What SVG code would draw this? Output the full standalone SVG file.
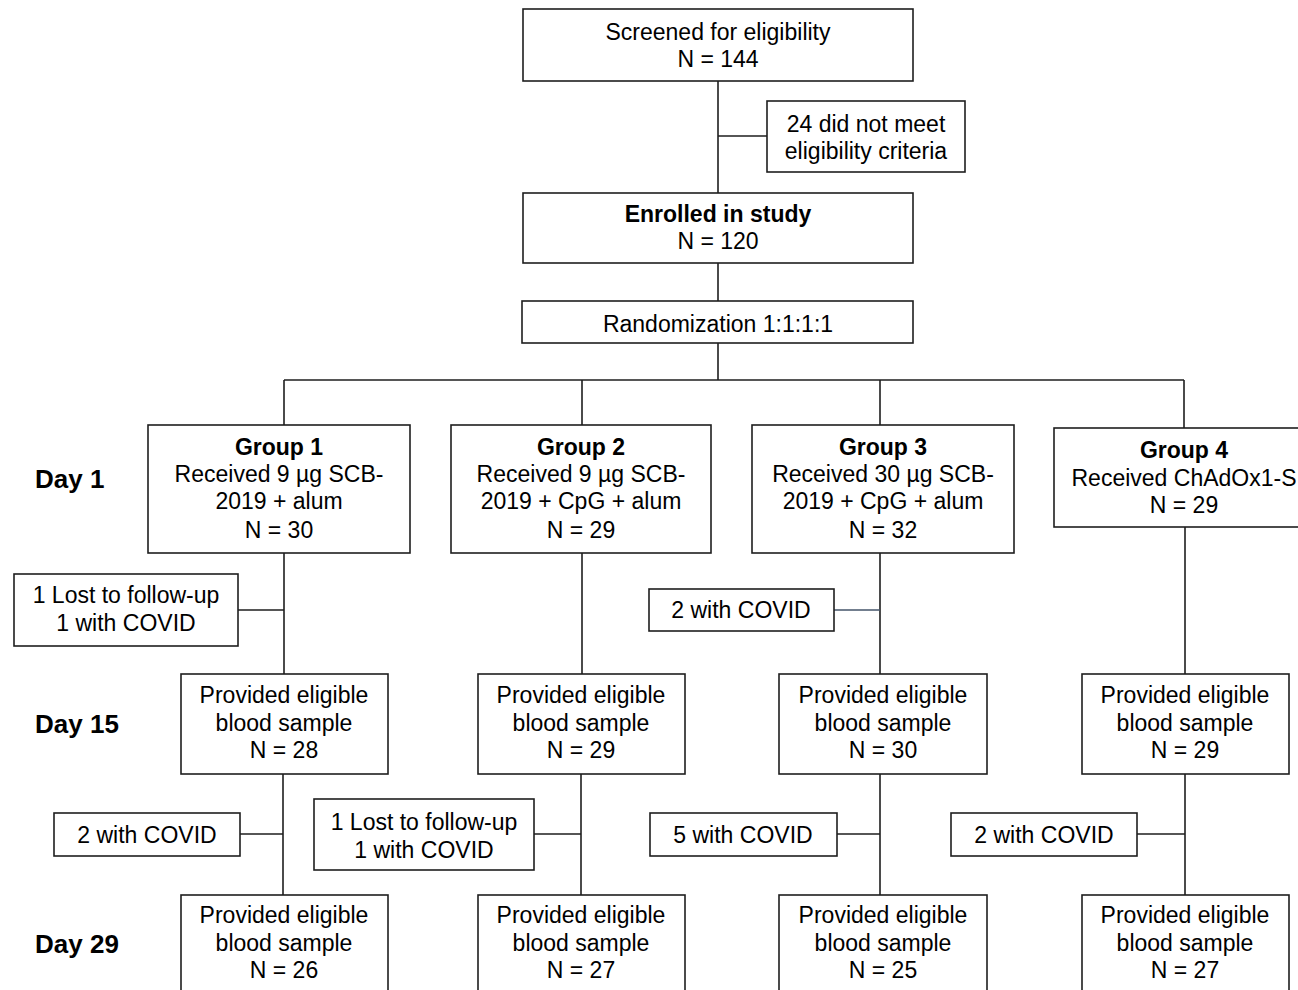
<svg xmlns="http://www.w3.org/2000/svg" width="1298" height="990" viewBox="0 0 1298 990">
<style>
.box{fill:#fff;stroke:#1e1e1e;stroke-width:1.6}
.ln{stroke:#1e1e1e;stroke-width:1.6;fill:none}
.ln2{stroke:#44546a;stroke-width:1.4;fill:none}
text{font-family:"Liberation Sans",Arial,sans-serif;font-size:23px;fill:#000;text-anchor:middle}
.b{font-weight:bold}
.day{font-weight:bold;font-size:26px;text-anchor:start}
</style>
<rect width="1298" height="990" fill="#fff"/>
<g id="connectors">
<line class="ln" x1="718" y1="81" x2="718" y2="193"/>
<line class="ln" x1="718" y1="136" x2="767" y2="136"/>
<line class="ln" x1="718" y1="263" x2="718" y2="301"/>
<line class="ln" x1="718" y1="343" x2="718" y2="380"/>
<line class="ln" x1="284" y1="380" x2="1184" y2="380"/>
<line class="ln" x1="284" y1="380" x2="284" y2="425"/>
<line class="ln" x1="582" y1="380" x2="582" y2="425"/>
<line class="ln" x1="880" y1="380" x2="880" y2="425"/>
<line class="ln" x1="1184" y1="380" x2="1184" y2="428"/>
<line class="ln" x1="284" y1="553" x2="284" y2="674"/>
<line class="ln" x1="238" y1="610" x2="284" y2="610"/>
<line class="ln" x1="582" y1="553" x2="582" y2="674"/>
<line class="ln" x1="880" y1="553" x2="880" y2="674"/>
<line class="ln2" x1="834" y1="610" x2="880" y2="610"/>
<line class="ln" x1="1185" y1="527" x2="1185" y2="674"/>
<line class="ln" x1="283" y1="774" x2="283" y2="895"/>
<line class="ln" x1="240" y1="834" x2="283" y2="834"/>
<line class="ln" x1="581" y1="774" x2="581" y2="895"/>
<line class="ln" x1="534" y1="834" x2="581" y2="834"/>
<line class="ln" x1="880" y1="774" x2="880" y2="895"/>
<line class="ln" x1="837" y1="834" x2="880" y2="834"/>
<line class="ln" x1="1185" y1="774" x2="1185" y2="895"/>
<line class="ln" x1="1137" y1="834" x2="1185" y2="834"/>
</g>
<g id="screened"><rect class="box" x="523" y="9" width="390" height="72"/><text x="718" y="40">Screened for eligibility</text><text x="718" y="67">N = 144</text></g>
<g id="excluded"><rect class="box" x="767" y="101" width="198" height="71"/><text x="866" y="132">24 did not meet</text><text x="866" y="159">eligibility criteria</text></g>
<g id="enrolled"><rect class="box" x="523" y="193" width="390" height="70"/><text class="b" x="718" y="222">Enrolled in study</text><text x="718" y="249">N = 120</text></g>
<g id="randomization"><rect class="box" x="522" y="301" width="391" height="42"/><text x="718" y="332">Randomization 1:1:1:1</text></g>
<g id="day-labels"><text class="day" x="35" y="488">Day 1</text><text class="day" x="35" y="733">Day 15</text><text class="day" x="35" y="953">Day 29</text></g>
<g id="group1"><rect class="box" x="148" y="425" width="262" height="128"/><text class="b" x="279" y="455">Group 1</text><text x="279" y="482">Received 9 µg SCB-</text><text x="279" y="509">2019 + alum</text><text x="279" y="538">N = 30</text></g>
<g id="group2"><rect class="box" x="451" y="425" width="260" height="128"/><text class="b" x="581" y="455">Group 2</text><text x="581" y="482">Received 9 µg SCB-</text><text x="581" y="509">2019 + CpG + alum</text><text x="581" y="538">N = 29</text></g>
<g id="group3"><rect class="box" x="752" y="425" width="262" height="128"/><text class="b" x="883" y="455">Group 3</text><text x="883" y="482">Received 30 µg SCB-</text><text x="883" y="509">2019 + CpG + alum</text><text x="883" y="538">N = 32</text></g>
<g id="group4"><rect class="box" x="1054" y="428" width="260" height="99"/><text class="b" x="1184" y="458">Group 4</text><text x="1184" y="486">Received ChAdOx1-S</text><text x="1184" y="513">N = 29</text></g>
<g id="g1-loss1"><rect class="box" x="14" y="574" width="224" height="72"/><text x="126" y="603">1 Lost to follow-up</text><text x="126" y="631">1 with COVID</text></g>
<g id="g3-loss1"><rect class="box" x="649" y="589" width="185" height="42"/><text x="741" y="618">2 with COVID</text></g>
<g id="g1-d15"><rect class="box" x="181" y="674" width="207" height="100"/><text x="284" y="703">Provided eligible</text><text x="284" y="731">blood sample</text><text x="284" y="758">N = 28</text></g>
<g id="g2-d15"><rect class="box" x="478" y="674" width="207" height="100"/><text x="581" y="703">Provided eligible</text><text x="581" y="731">blood sample</text><text x="581" y="758">N = 29</text></g>
<g id="g3-d15"><rect class="box" x="779" y="674" width="208" height="100"/><text x="883" y="703">Provided eligible</text><text x="883" y="731">blood sample</text><text x="883" y="758">N = 30</text></g>
<g id="g4-d15"><rect class="box" x="1082" y="674" width="207" height="100"/><text x="1185" y="703">Provided eligible</text><text x="1185" y="731">blood sample</text><text x="1185" y="758">N = 29</text></g>
<g id="g1-loss2"><rect class="box" x="54" y="813" width="186" height="43"/><text x="147" y="843">2 with COVID</text></g>
<g id="g2-loss2"><rect class="box" x="314" y="799" width="220" height="71"/><text x="424" y="830">1 Lost to follow-up</text><text x="424" y="858">1 with COVID</text></g>
<g id="g3-loss2"><rect class="box" x="650" y="813" width="187" height="43"/><text x="743" y="843">5 with COVID</text></g>
<g id="g4-loss2"><rect class="box" x="951" y="813" width="186" height="43"/><text x="1044" y="843">2 with COVID</text></g>
<g id="g1-d29"><rect class="box" x="181" y="895" width="207" height="110"/><text x="284" y="923">Provided eligible</text><text x="284" y="951">blood sample</text><text x="284" y="978">N = 26</text></g>
<g id="g2-d29"><rect class="box" x="478" y="895" width="207" height="110"/><text x="581" y="923">Provided eligible</text><text x="581" y="951">blood sample</text><text x="581" y="978">N = 27</text></g>
<g id="g3-d29"><rect class="box" x="779" y="895" width="208" height="110"/><text x="883" y="923">Provided eligible</text><text x="883" y="951">blood sample</text><text x="883" y="978">N = 25</text></g>
<g id="g4-d29"><rect class="box" x="1082" y="895" width="207" height="110"/><text x="1185" y="923">Provided eligible</text><text x="1185" y="951">blood sample</text><text x="1185" y="978">N = 27</text></g>
</svg>
